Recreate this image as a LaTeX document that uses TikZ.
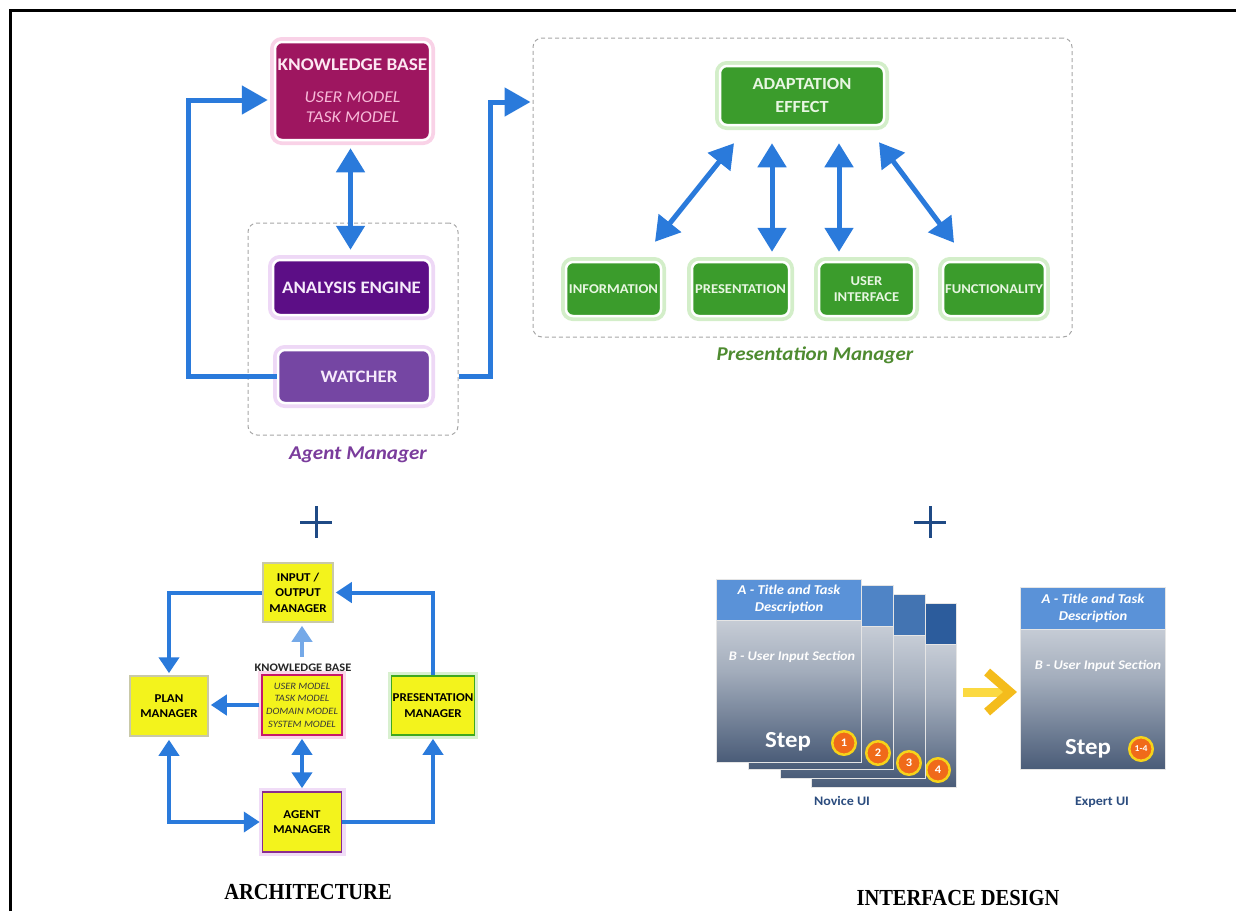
\documentclass[tikz,border=0pt]{standalone}
\usepackage{fontspec}
\setmainfont{Carlito}[FakeStretch=1.08]
\newfontfamily\capserif{Liberation Serif}
\usetikzlibrary{arrows.meta,calc}

% palette
\definecolor{kbmag}{HTML}{9E1660}
\definecolor{kbglow}{HTML}{F3A6CF}
\definecolor{kbtitle}{HTML}{FDE8F2}
\definecolor{kbsub}{HTML}{F7B9D8}
\definecolor{anpur}{HTML}{5C0E86}
\definecolor{wapur}{HTML}{7546A3}
\definecolor{purglow}{HTML}{DDB2EE}
\definecolor{purtext}{HTML}{F6EAFB}
\definecolor{amlabel}{HTML}{7A3C9C}
\definecolor{gbox}{HTML}{3B9C2C}
\definecolor{gglow}{HTML}{A8DE94}
\definecolor{gtext}{HTML}{E8F6E2}
\definecolor{pmlabel}{HTML}{4E8B30}
\definecolor{arrowblue}{HTML}{2A7ADB}
\definecolor{dashgray}{HTML}{A6A6A6}
\definecolor{archyellow}{HTML}{F3F31C}
\definecolor{iogray}{HTML}{C9C9A8}
\definecolor{kbred}{HTML}{C8186A}
\definecolor{pagreen}{HTML}{3EA81E}
\definecolor{agpur}{HTML}{8A2C8E}
\definecolor{plusblue}{HTML}{1F4A85}
\definecolor{cardtop}{HTML}{E3E6EB}
\definecolor{cardmid}{HTML}{A3ADBC}
\definecolor{cardbot}{HTML}{4A5C78}
\definecolor{hdone}{HTML}{5A92D8}
\definecolor{hdtwo}{HTML}{4F84C6}
\definecolor{hdthree}{HTML}{4374B2}
\definecolor{hdfour}{HTML}{2C5C9C}
\definecolor{dotorange}{HTML}{F06A1A}
\definecolor{dotyellow}{HTML}{F6D31A}
\definecolor{uilabel}{HTML}{2B4C7E}
\definecolor{yshaftc}{HTML}{FBD941}
\definecolor{yheadc}{HTML}{F4BC1C}

\tikzset{
  glowbox/.style 2 args={rectangle, rounded corners=7pt, fill=#1, draw=white,
    line width=2.5pt, preaction={draw=#2, line width=10pt, opacity=0.5},
    align=center, inner sep=2pt},
  groupbox/.style={rectangle, rounded corners=9pt, draw=dashgray,
    line width=1pt, dash pattern=on 4pt off 3pt},
  grouplabel/.style={font=\fontsize{19.5}{22}\selectfont\bfseries\itshape},
  fatarrow/.style={draw=arrowblue, line width=5pt,
    -{Triangle[length=26pt,width=28pt]}},
  fatboth/.style={draw=arrowblue, line width=5pt,
    {Triangle[length=24pt,width=28pt]}-{Triangle[length=24pt,width=28pt]}},
  gsmall/.style={glowbox={gbox}{gglow}, minimum height=54pt, text=gtext,
    font=\fontsize{13.5}{16}\selectfont\bfseries},
  archbox/.style={rectangle, fill=archyellow, draw=#1, line width=1.5pt,
    align=center, inner sep=1pt, text=black,
    font=\fontsize{12}{15.5}\selectfont\bfseries},
  archglow/.style={preaction={draw=#1, line width=8pt, opacity=0.45}},
  archarrow/.style={draw=arrowblue, line width=4pt,
    -{Triangle[length=16pt,width=20pt]}},
  archboth/.style={draw=arrowblue, line width=4pt,
    {Triangle[length=16pt,width=20pt]}-{Triangle[length=16pt,width=20pt]}},
  plussign/.style={draw=plusblue, line width=3pt},
  title/.style={font=\capserif\fontsize{20.5}{24}\selectfont\bfseries},
  uicard/.style={rectangle, minimum width=145pt, minimum height=184pt,
    top color=cardtop, bottom color=cardbot, middle color=cardmid,
    draw=white!80!gray, line width=0.8pt, inner sep=0pt},
  cardhead/.style={rectangle, anchor=north, minimum width=145pt,
    minimum height=41pt, fill=#1, draw=white!80!gray, line width=0.8pt,
    inner sep=0pt, align=center, text=white,
    font=\fontsize{13.5}{17}\selectfont\bfseries\itshape},
  btext/.style={text=white!92!cardtop,
    font=\fontsize{13.2}{15}\selectfont\bfseries\itshape},
  steptext/.style={text=white, font=\fontsize{23}{25}\selectfont\bfseries},
  stepdot/.style={circle, fill=dotorange, draw=dotyellow, line width=2.5pt,
    minimum size=23.5pt, inner sep=0pt, text=white,
    font=\fontsize{11.5}{11.5}\selectfont\bfseries},
  uitag/.style={text=uilabel, font=\fontsize{13}{14}\selectfont\bfseries},
  yshaft/.style={draw=yshaftc, line width=9pt},
  yhead/.style={draw=yheadc, line width=9pt, line join=miter},
}

\begin{document}
\begin{tikzpicture}[x=1pt,y=-1pt]
\useasboundingbox (0,0) rectangle (1236,911);

% page frame (top and left edges)
\draw[line width=3pt] (10,911) -- (10,10) -- (1236,10);

% ---------------- agent manager ----------------
\node[groupbox, minimum width=210pt, minimum height=212pt] (am) at (353,329) {};
\node[grouplabel, text=amlabel] (amlab) at (358,455) {Agent Manager};

\node[glowbox={kbmag}{kbglow}, minimum width=155pt, minimum height=98pt,
      font=\fontsize{16.5}{20}\selectfont] (kb) at (352.5,91)
  {\textcolor{kbtitle}{\fontsize{17.8}{20}\selectfont\textbf{KNOWLEDGE BASE}}\\[12pt]
   \textcolor{kbsub}{\textit{USER MODEL}}\\
   \textcolor{kbsub}{\textit{TASK MODEL}}};

\node[glowbox={anpur}{purglow}, minimum width=157pt, minimum height=55pt,
      text=purtext, font=\fontsize{17.5}{20}\selectfont\bfseries]
  (an) at (351.5,287.5) {ANALYSIS ENGINE};
\node[glowbox={wapur}{purglow}, minimum width=152pt, minimum height=53pt,
      text=purtext, font=\fontsize{17.5}{20}\selectfont\bfseries]
  (wa) at (354,376.5) {\hspace*{10pt}WATCHER};

% ---------------- presentation manager ----------------
\node[groupbox, minimum width=539pt, minimum height=299pt] (pm) at (802.5,187.5) {};
\node[grouplabel, text=pmlabel] (pmlab) at (815,355) {Presentation Manager};

\node[glowbox={gbox}{gglow}, minimum width=164pt, minimum height=59pt,
      text=gtext, font=\fontsize{17}{23}\selectfont\bfseries]
  (ae) at (802,95.5) {ADAPTATION\\EFFECT};

\node[gsmall, minimum width=95pt] (info) at (613.5,289) {INFORMATION};
\node[gsmall, minimum width=97pt] (pres) at (740.5,289) {PRESENTATION};
\node[gsmall, minimum width=95pt] (ui)   at (866.5,289) {USER\\INTERFACE};
\node[gsmall, minimum width=96pt] (func) at (994,289)   {FUNCTIONALITY};

% connectors of the upper diagrams
\draw[fatboth] ($(kb.south)+(-2,7)$) -- ($(an.north)+(-1,-9)$);
\coordinate (lc) at (188,100);
\draw[fatarrow] (wa.west) -| (lc) -- ($(kb.west)+(-6,9)$);
\coordinate (rc) at (490,102);
\draw[fatarrow, shorten >=2pt] (am.east |- wa.west) -| (rc) -- (pm.west |- rc);

\draw[fatboth] ($(ae.south)+(-68,17)$) -- ($(info.north)+(41.5,-19)$);
\draw[fatboth] ($(ae.south)+(-30,17)$) -- ($(pres.north)+(31.5,-9)$);
\draw[fatboth] ($(ae.south)+(37,17)$)  -- ($(ui.north)+(-27.5,-9)$);
\draw[fatboth] ($(ae.south)+(77,16)$)  -- ($(func.north)+(-40,-18)$);

% ---------------- plus signs ----------------
\draw[plussign] (300,522) -- (332,522) (316,506) -- (316,538);
\draw[plussign] (914,522) -- (946,522) (930,506) -- (930,538);

% ---------------- architecture ----------------
\node[archbox=iogray, minimum width=70pt, minimum height=59pt]
  (io) at (298,592.5) {INPUT /\\OUTPUT\\MANAGER};
\node[archbox=iogray, minimum width=78pt, minimum height=60pt]
  (plan) at (169,706) {PLAN\\MANAGER};
\node[archbox=kbred, archglow=kbglow, minimum width=80pt, minimum height=60pt,
      font=\fontsize{9.7}{12.6}\selectfont\itshape, text=black!78]
  (kba) at (302,705) {USER MODEL\\TASK MODEL\\DOMAIN MODEL\\SYSTEM MODEL};
\node[font=\fontsize{11.5}{12}\selectfont\bfseries, text=black!85]
  (kbl) at (303,668) {KNOWLEDGE BASE};
\node[archbox=pagreen, archglow=gglow, minimum width=80pt, minimum height=59pt]
  (pa) at (433,705.5) {PRESENTATION\\MANAGER};
\node[archbox=agpur, archglow=purglow, minimum width=79pt, minimum height=60pt]
  (ag) at (302,822) {AGENT\\MANAGER};

\draw[archarrow, shorten >=2pt] (io.west) -| (plan.north);
\draw[archarrow, draw=arrowblue!65!white]
  ($(kbl.north)+(-1,-4)$) -- ($(io.south -| kbl.north)+(-1,3)$);
\draw[archarrow, shorten <=2pt, shorten >=2pt] (kba.west) -- (plan.east |- kba.west);
\draw[archboth, shorten <=3pt, shorten >=3pt] (kba.south) -- (ag.north -| kba.south);
\draw[archboth, shorten <=3pt, shorten >=2pt] (plan.south) |- (ag.west);
\draw[archarrow, shorten >=3pt] (ag.east) -| (pa.south);
\draw[archarrow, shorten >=2pt] (pa.north) |- (io.east);

\node[title] (archtitle) at (308,892) {\scalebox{1}[1.12]{ARCHITECTURE}};

% ---------------- interface design ----------------
% novice deck, back to front
\node[uicard] (c4) at (884,695.5) {};
\node[cardhead=hdfour] (h4) at (c4.north) {};
\node[stepdot] (d4) at (938,770) {4};

\node[uicard] (c3) at (852.5,686.5) {};
\node[cardhead=hdthree] (h3) at (c3.north) {};
\node[stepdot] (d3) at (909,763) {3};

\node[uicard] (c2) at (820.5,677.5) {};
\node[cardhead=hdtwo] (h2) at (c2.north) {};
\node[stepdot] (d2) at (878,753) {2};

\node[uicard, minimum height=183pt] (c1) at (789,670.5) {};
\node[cardhead=hdone] (h1) at (c1.north) {A - Title and Task\\Description};
\node[btext] (c1b) at ($(c1.north)+(3,78)$) {B - User Input Section};
\node[steptext] (c1s) at ($(c1.north)+(-1,163)$) {Step};
\node[stepdot] (d1) at (844,743) {1};

\node[uitag] (novice) at (842,801) {Novice UI};

% expert card
\node[uicard, minimum height=182pt] (ex) at (1093,678) {};
\node[cardhead=hdone, minimum height=42pt] (hx) at (ex.north) {A - Title and Task\\Description};
\node[btext] (exb) at ($(ex.north)+(5,79)$) {B - User Input Section};
\node[steptext] (exs) at ($(ex.north)+(-5,162)$) {Step};
\node[stepdot, font=\fontsize{9}{9}\selectfont\bfseries] (dx) at (1141,749) {1-4};

\node[uitag] (expert) at (1102,802) {Expert UI};

% novice to expert arrow
\coordinate (ya) at (963,692);
\draw[yshaft] (ya) -- ($(ex.west |- ya)+(-12,0)$);
\draw[yhead] ($(ex.west |- ya)+(-33,-20)$) -- ($(ex.west |- ya)+(-10,0)$)
  -- ($(ex.west |- ya)+(-33,20)$);

\node[title] (idtitle) at (958,898) {\scalebox{1}[1.12]{INTERFACE DESIGN}};
\end{tikzpicture}
\end{document}
